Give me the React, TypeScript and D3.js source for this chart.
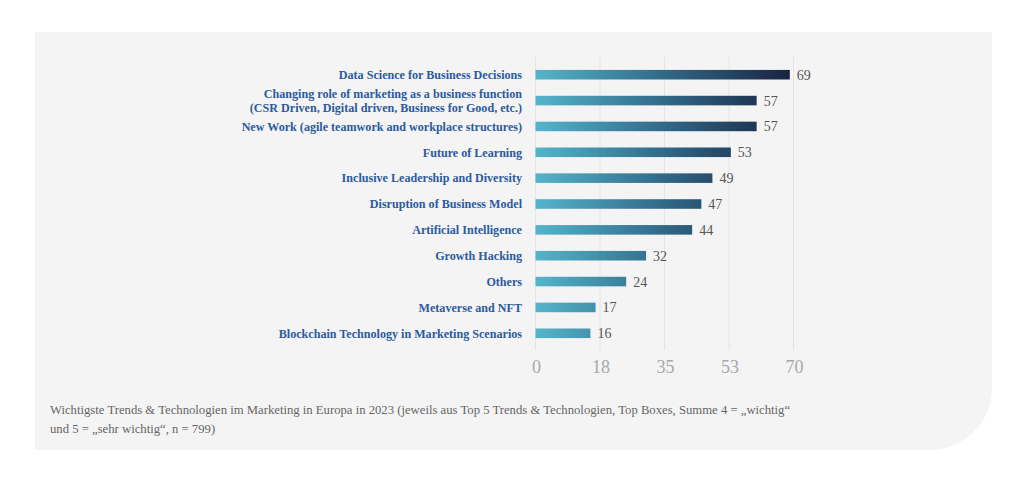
import React from 'react';
import * as d3 from 'd3';

const categories: string[][] = [
  ['Data Science for Business Decisions'],
  ['Changing role of marketing as a business function', '(CSR Driven, Digital driven, Business for Good, etc.)'],
  ['New Work (agile teamwork and workplace structures)'],
  ['Future of Learning'],
  ['Inclusive Leadership and Diversity'],
  ['Disruption of Business Model'],
  ['Artificial Intelligence'],
  ['Growth Hacking'],
  ['Others'],
  ['Metaverse and NFT'],
  ['Blockchain Technology in Marketing Scenarios'],
];
// printed labels
const values = [69, 57, 57, 53, 49, 47, 44, 32, 24, 17, 16];
// bar lengths as drawn in the picture (they don't quite match the printed labels)
const barLengths = [69, 60, 60, 53, 48, 45, 42.5, 30, 24.6, 16.3, 14.9];
const tickValues = [0, 17.5, 35, 52.5, 70];
const captionLines = [
  'Wichtigste Trends & Technologien im Marketing in Europa in 2023 (jeweils aus Top 5 Trends & Technologien, Top Boxes, Summe 4 = \u201Ewichtig\u201C',
  'und 5 = \u201Esehr wichtig\u201C, n = 799)',
];

const W = 1024;
const H = 479;

export default function App() {
  const x = d3.scaleLinear().domain([0, 70]).range([535.5, 793.5]);
  const y = d3
    .scaleBand<number>()
    .domain(d3.range(values.length))
    .range([57, 351])
    .paddingInner(0.63)
    .paddingOuter(0.5);
  const bw = y.bandwidth();

  // panel with a rounded bottom-right corner
  const px0 = 35, py0 = 32, px1 = 992, py1 = 450, r = 62;
  const panel = d3.path();
  panel.moveTo(px0, py0);
  panel.lineTo(px1, py0);
  panel.lineTo(px1, py1 - r);
  panel.arcTo(px1, py1, px1 - r, py1, r);
  panel.lineTo(px0, py1);
  panel.closePath();

  const labelFont = '"Liberation Serif", "DejaVu Serif", serif';

  return (
    <svg
      width={W}
      height={H}
      style={{ position: 'absolute', left: 0, top: 0, background: '#ffffff' }}
    >
      <defs>
        <linearGradient id="barGrad" gradientUnits="userSpaceOnUse" x1={x(0)} x2={x(70)} y1={0} y2={0}>
          <stop offset="0%" stopColor="#54b5ca" />
          <stop offset="45%" stopColor="#34708f" />
          <stop offset="100%" stopColor="#18213f" />
        </linearGradient>
      </defs>
      <path d={panel.toString()} fill="#f4f4f4" />

      {/* grid */}
      {tickValues.map((t) => (
        <line
          key={'g' + t}
          x1={x(t)}
          x2={x(t)}
          y1={57}
          y2={350}
          stroke="#e4e4e4"
          strokeWidth={1}
        />
      ))}

      {/* bars */}
      {barLengths.map((v, i) => (
        <rect
          key={'b' + i}
          x={x(0)}
          y={y(i)!}
          width={x(v) - x(0)}
          height={bw}
          fill="url(#barGrad)"
        />
      ))}

      {/* value labels */}
      {values.map((v, i) => (
        <text
          key={'v' + i}
          x={x(barLengths[i]) + 7}
          y={y(i)! + bw / 2}
          dy="0.36em"
          fontFamily={labelFont}
          fontSize={14}
          fill="#555555"
        >
          {v}
        </text>
      ))}

      {/* category labels */}
      {categories.map((lines, i) => (
        <text
          key={'c' + i}
          x={522}
          y={y(i)! + bw / 2}
          textAnchor="end"
          fontFamily={labelFont}
          fontWeight="bold"
          fontSize={12.1}
          fill="#2b5a9e"
        >
          {lines.map((l, j) => (
            <tspan
              key={j}
              x={522}
              dy={j === 0 ? `${0.35 - (lines.length - 1) * 0.6}em` : '1.2em'}
            >
              {l}
            </tspan>
          ))}
        </text>
      ))}

      {/* x axis tick labels */}
      {tickValues.map((t) => (
        <text
          key={'t' + t}
          x={x(t) + 1}
          y={373}
          textAnchor="middle"
          fontFamily={labelFont}
          fontSize={18}
          fill="#a8a8a8"
        >
          {d3.format('.0f')(Math.round(t))}
        </text>
      ))}

      {/* caption */}
      {captionLines.map((l, i) => (
        <text
          key={'cap' + i}
          x={50}
          y={414 + i * 19}
          fontFamily={labelFont}
          fontSize={12.7}
          fill="#666666"
        >
          {l}
        </text>
      ))}
    </svg>
  );
}
